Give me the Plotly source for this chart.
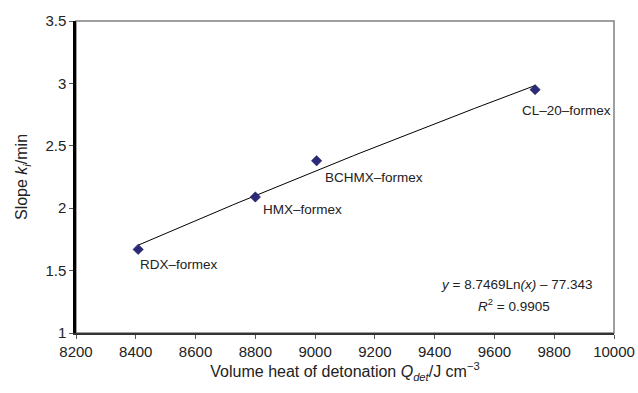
import numpy as np
import plotly.graph_objects as go

names = ["RDX–formex", "HMX–formex", "BCHMX–formex", "CL–20–formex"]
q_det = [8408, 8800, 9005, 9736]
slope = [1.67, 2.09, 2.38, 2.95]
x_ticks = [8200, 8400, 8600, 8800, 9000, 9200, 9400, 9600, 9800, 10000]
y_ticks = [1, 1.5, 2, 2.5, 3, 3.5]
equation = "<i>y</i> = 8.7469Ln<i>(x)</i> – 77.343"
r2_text = "<i>R</i><sup>2</sup> = 0.9905"

# logarithmic trendline fitted to the data
a, b = np.polyfit(np.log(q_det), slope, 1)
xt = np.linspace(min(q_det), max(q_det), 60)
yt = a * np.log(xt) + b

font = "Liberation Sans, Arial, sans-serif"
fig = go.Figure()
fig.add_trace(go.Scatter(x=xt, y=yt, mode="lines",
                         line=dict(color="black", width=1), hoverinfo="skip"))
fig.add_trace(go.Scatter(x=q_det, y=slope, mode="markers",
                         marker=dict(symbol="diamond", size=8, color="#2B2A7A",
                                     line=dict(color="#1a1a50", width=0.5))))

shifts = [(0, -15), (6, -13), (6, -17), (-15, -21)]
for n, x, y, (dx, dy) in zip(names, q_det, slope, shifts):
    fig.add_annotation(x=x, y=y, text=n, showarrow=False, xanchor="left",
                       yanchor="middle", xshift=dx, yshift=dy,
                       font=dict(family=font, size=13.5, color="#222"))

fig.add_annotation(xref="paper", yref="paper", x=0.965, y=0.157, text=equation,
                   showarrow=False, xanchor="right", yanchor="middle",
                   font=dict(family=font, size=13.5, color="#222"))
fig.add_annotation(xref="paper", yref="paper", x=0.885, y=0.090, text=r2_text,
                   showarrow=False, xanchor="right", yanchor="middle",
                   font=dict(family=font, size=13.5, color="#222"))

fig.add_shape(type="rect", xref="paper", yref="paper", x0=0, y0=0, x1=1, y1=1,
              line=dict(color="#808080", width=1.5), layer="below")

fig.update_layout(
    width=638, height=393,
    margin=dict(l=76, r=24, t=21, b=60, autoexpand=False),
    plot_bgcolor="white", paper_bgcolor="white",
    showlegend=False,
    font=dict(family=font, color="#222"),
    xaxis=dict(range=[8200, 10000], tickvals=x_ticks,
               ticktext=[str(v) for v in x_ticks],
               showgrid=False, zeroline=False, automargin=False,
               showline=True, linecolor="#333", linewidth=2,
               ticks="outside", ticklen=4, tickcolor="#555",
               tickfont=dict(size=15),
               title=dict(text="Volume heat of detonation <i>Q</i><sub><i>det</i></sub>/J cm<sup>−3</sup>",
                          font=dict(size=16), standoff=7)),
    yaxis=dict(range=[1, 3.5], tickvals=y_ticks,
               ticktext=["1", "1.5", "2", "2.5", "3", "3.5"],
               showgrid=False, zeroline=False, automargin=False,
               showline=True, linecolor="black", linewidth=2.5,
               ticks="outside", ticklen=4, tickcolor="#555",
               tickfont=dict(size=15),
               title=dict(text="Slope <i>k</i><sub><i>i</i></sub>/min",
                          font=dict(size=16), standoff=14)),
)

fig.write_html("out.html", config={"displayModeBar": False},
               post_script="document.body.style.margin='0';document.body.style.overflow='hidden';")
